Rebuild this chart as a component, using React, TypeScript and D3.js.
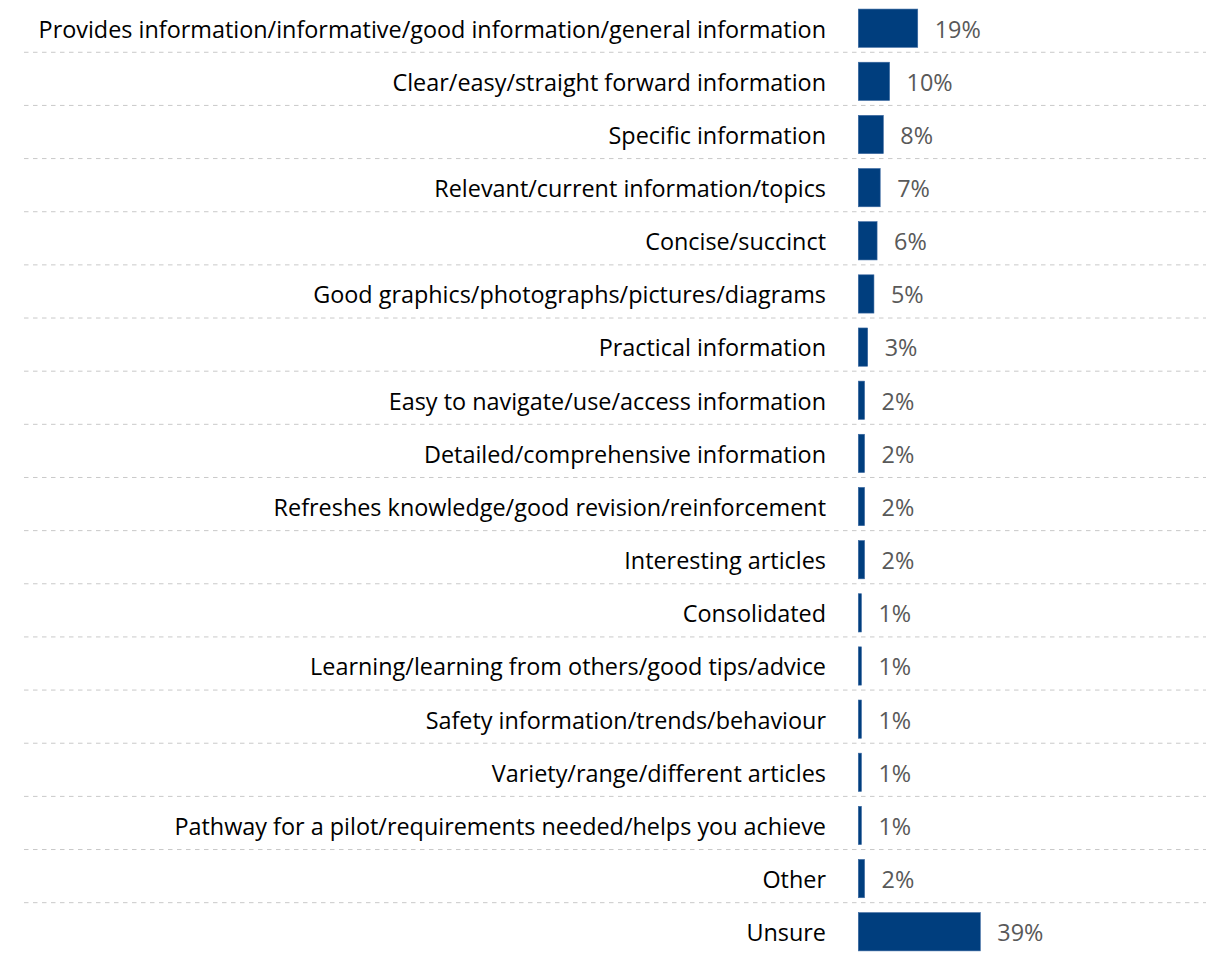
import React from "react";
import * as d3 from "d3";

const categories = [
  "Provides information/informative/good information/general information",
  "Clear/easy/straight forward information",
  "Specific information",
  "Relevant/current information/topics",
  "Concise/succinct",
  "Good graphics/photographs/pictures/diagrams",
  "Practical information",
  "Easy to navigate/use/access information",
  "Detailed/comprehensive information",
  "Refreshes knowledge/good revision/reinforcement",
  "Interesting articles",
  "Consolidated",
  "Learning/learning from others/good tips/advice",
  "Safety information/trends/behaviour",
  "Variety/range/different articles",
  "Pathway for a pilot/requirements needed/helps you achieve",
  "Other",
  "Unsure",
];
const values = [19, 10, 8, 7, 6, 5, 3, 2, 2, 2, 2, 1, 1, 1, 1, 1, 2, 39];
const valueLabels = values.map((v) => `${v}%`);

const W = 1206;
const H = 954;

export default function App() {
  const step = 53.15;
  const y0 = 28.2 - step / 2;
  const y = d3
    .scaleBand<string>()
    .domain(categories)
    .range([y0, y0 + step * categories.length])
    .paddingInner(0.28)
    .paddingOuter(0.14);
  const x = d3.scaleLinear().domain([0, 39]).range([858.3, 980.3]);
  const font = "'Open Sans', 'Noto Sans', sans-serif";
  const fs = 23.4;

  return (
    <svg
      width={W}
      height={H}
      style={{ position: "absolute", left: 0, top: 0, display: "block", background: "#fff" }}
    >
      {categories.slice(0, -1).map((c, i) => {
        const gy = y0 + (i + 1) * y.step() - 2.5;
        return (
          <line
            key={"g" + i}
            x1={24}
            x2={W}
            y1={gy}
            y2={gy}
            stroke="#c9c9c9"
            strokeWidth={1}
            strokeDasharray="4.5,4.5"
          />
        );
      })}
      {categories.map((c, i) => {
        const by = y(c)!;
        const bh = y.bandwidth();
        const cy = by + bh / 2;
        return (
          <g key={c}>
            <rect
              x={x(0)}
              y={by}
              width={x(values[i]) - x(0)}
              height={bh}
              fill="#003e7e"
              stroke="#3a68a0"
              strokeWidth={0.6}
            />
            <text
              x={826}
              y={cy}
              dy="0.4em"
              textAnchor="end"
              fontFamily={font}
              fontSize={fs}
              fill="#000"
            >
              {c}
            </text>
            <text
              x={x(values[i]) + 17}
              y={cy}
              dy="0.4em"
              textAnchor="start"
              fontFamily={font}
              fontSize={fs}
              fill="#595959"
            >
              {valueLabels[i]}
            </text>
          </g>
        );
      })}
    </svg>
  );
}
